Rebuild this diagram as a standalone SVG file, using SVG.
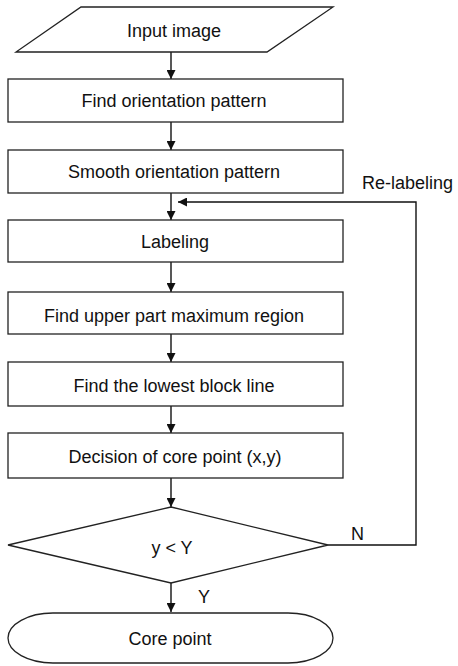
<svg xmlns="http://www.w3.org/2000/svg" width="458" height="666" viewBox="0 0 458 666">
<defs>
<marker id="ah" viewBox="0 0 10 10" refX="10" refY="5" markerWidth="9" markerHeight="9" markerUnits="userSpaceOnUse" orient="auto">
<path d="M0,0 L10,5 L0,10 Z" fill="#111"/>
</marker>
<style>
.s{fill:#fff;stroke:#222;stroke-width:1.3}
.t{font-family:"Liberation Sans",Arial,sans-serif;font-size:18px;fill:#111;text-anchor:middle;dominant-baseline:central}
.l{font-family:"Liberation Sans",Arial,sans-serif;font-size:18px;fill:#111}
.c{fill:none;stroke:#111;stroke-width:1.4}
</style>
</defs>
<rect width="458" height="666" fill="#fff"/>
<g id="connectors">
<line class="c" x1="171" y1="52" x2="171" y2="79" marker-end="url(#ah)"/>
<line class="c" x1="171" y1="122" x2="171" y2="150" marker-end="url(#ah)"/>
<line class="c" x1="171" y1="193" x2="171" y2="220" marker-end="url(#ah)"/>
<line class="c" x1="171" y1="262" x2="171" y2="292" marker-end="url(#ah)"/>
<line class="c" x1="171" y1="334" x2="171" y2="362" marker-end="url(#ah)"/>
<line class="c" x1="171" y1="406" x2="171" y2="433" marker-end="url(#ah)"/>
<line class="c" x1="171" y1="478" x2="171" y2="507" marker-end="url(#ah)"/>
<line class="c" x1="171" y1="583" x2="171" y2="612" marker-end="url(#ah)"/>
<polyline class="c" points="328,545 416,545 416,202 178,202" marker-end="url(#ah)"/>
<text class="l" x="362" y="189">Re-labeling</text>
<text class="l" x="351" y="540">N</text>
<text class="l" x="198" y="603">Y</text>
</g>
<g id="input">
<polygon class="s" points="81,7 333,7 267,52 16,52"/>
<text class="t" x="174" y="31">Input image</text>
</g>
<g id="find-orientation">
<rect class="s" x="8" y="79" width="335" height="43"/>
<text class="t" x="174" y="101">Find orientation pattern</text>
</g>
<g id="smooth">
<rect class="s" x="8" y="150" width="335" height="43"/>
<text class="t" x="174" y="172">Smooth orientation pattern</text>
</g>
<g id="labeling">
<rect class="s" x="8" y="220" width="335" height="42"/>
<text class="t" x="175" y="242">Labeling</text>
</g>
<g id="upper">
<rect class="s" x="8" y="292" width="335" height="42"/>
<text class="t" x="174" y="316">Find upper part maximum region</text>
</g>
<g id="lowest">
<rect class="s" x="8" y="362" width="335" height="44"/>
<text class="t" x="174" y="386">Find the lowest block line</text>
</g>
<g id="decision-core">
<rect class="s" x="8" y="433" width="335" height="45"/>
<text class="t" x="175" y="457">Decision of core point (x,y)</text>
</g>
<g id="condition">
<polygon class="s" points="171,507 328,545 171,583 8,545"/>
<text class="t" x="172" y="548">y &lt; Y</text>
</g>
<g id="core">
<rect class="s" x="8" y="613" width="325" height="50" rx="45" ry="25"/>
<text class="t" x="170" y="639">Core point</text>
</g>
</svg>
